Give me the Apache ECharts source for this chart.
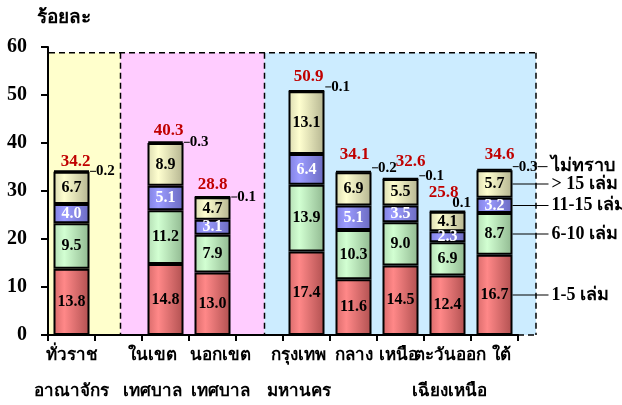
<!DOCTYPE html>
<html>
<head>
<meta charset="utf-8">
<script src="https://cdn.jsdelivr.net/npm/echarts@6/dist/echarts.min.js"></script>
<style>
  html, body { margin: 0; padding: 0; background: #fff; }
  #main { width: 622px; height: 405px; }
</style>
</head>
<body>
<div id="main"></div>
<script>
// categories ('' = spacer columns between groups)
const categories = ['ทั่วราช\nอาณาจักร', '', 'ในเขต\nเทศบาล', 'นอกเขต\nเทศบาล', '',
    'กรุงเทพ\nมหานคร', 'กลาง', 'เหนือ', 'ตะวันออก\nเฉียงเหนือ', 'ใต้'];
const books1to5   = [13.8, null, 14.8, 13.0, null, 17.4, 11.6, 14.5, 12.4, 16.7];
const books6to10  = [9.5, null, 11.2, 7.9, null, 13.9, 10.3, 9.0, 6.9, 8.7];
const books11to15 = [4.0, null, 5.1, 3.1, null, 6.4, 5.1, 3.5, 2.3, 3.2];
const booksOver15 = [6.7, null, 8.9, 4.7, null, 13.1, 6.9, 5.5, 4.1, 5.7];
const unknown     = [0.2, null, 0.3, 0.1, null, 0.1, 0.2, 0.1, 0.1, 0.3];
const totals      = [34.2, null, 40.3, 28.8, null, 50.9, 34.1, 32.6, 25.8, 34.6];
const seriesNames = ['1-5 เล่ม', '6-10 เล่ม', '11-15 เล่ม', '> 15 เล่ม', 'ไม่ทราบ'];
const yTicks = [0, 10, 20, 30, 40, 50, 60];

const FONT = "'Liberation Serif', 'Times New Roman', serif";
const last = categories.length - 1;

// horizontal nudges of the category names (label padding left/right)
const catPadding = [[0, 0], null, [0, 26], [16, 0], null, [0, 16], [0, 0], [0, 4], [4, 0], [14, 0]];

function grad(c0, c1, c2) {
    return new echarts.graphic.LinearGradient(0, 0, 1, 0, [
        {offset: 0, color: c0}, {offset: 0.3, color: c1}, {offset: 1, color: c2}
    ]);
}

// a stacked segment; the last bar also carries the leader line to the series name
function segment(name, values, fill, textColor) {
    return {
        name: name,
        type: 'bar',
        stack: 'all',
        barWidth: 36,
        itemStyle: {color: fill, borderColor: '#000', borderWidth: 2},
        label: {
            show: true,
            position: 'inside',
            fontFamily: FONT,
            fontWeight: 'bold',
            fontSize: 16,
            color: textColor,
            formatter: p => p.value == null ? '' : p.value.toFixed(1)
        },
        data: values.map((v, i) => {
            if (i !== last) return v;
            return {
                value: v,
                label: {
                    position: 'insideLeft',
                    distance: 0,
                    formatter: '{v|' + v.toFixed(1) + '}{l| }{t|' + name + '}',
                    rich: {
                        v: {width: 36, align: 'center', fontFamily: FONT, fontWeight: 'bold', fontSize: 16, color: textColor},
                        l: {width: 36, height: 1, backgroundColor: '#000'},
                        t: {fontFamily: FONT, fontWeight: 'bold', fontSize: 18, color: '#000', padding: [0, 0, 0, 3]}
                    }
                }
            };
        })
    };
}

const unknownOffsets = [[0, 0], null, [0, 0], [0, 0], null, [0, -4], [0, -4], [0, -3], [-14, -8], [0, -3]];
const unknownLead = [true, false, true, true, false, true, true, true, false, true];
const totalOffsets = [[4, 1], null, [3, 0], [0, -2], null, [2, -4], [1, -6], [10, -6], [-4, -8], [5, -4]];

let chart = echarts.init(document.getElementById('main'));

let option = {
    animation: false,
    title: {
        text: 'ร้อยละ',
        left: 32,
        top: 4,
        textStyle: {fontFamily: FONT, fontWeight: 'bold', fontSize: 19, color: '#000'}
    },
    grid: {left: 48, right: 104, top: 47, bottom: 70, outerBoundsMode: 'none', containLabel: false},
    xAxis: {
        type: 'category',
        data: categories.map((c, i) => catPadding[i] ? {value: c, textStyle: {padding: [0, catPadding[i][1], 0, catPadding[i][0]]}} : c),
        axisLine: {lineStyle: {color: '#000', width: 2}},
        axisTick: {show: true, length: 6, lineStyle: {color: '#000', width: 2}},
        axisLabel: {
            interval: 0,
            margin: 3,
            fontFamily: FONT,
            fontWeight: 'bold',
            fontSize: 17,
            lineHeight: 36,
            color: '#000'
        }
    },
    yAxis: {
        type: 'value',
        min: yTicks[0],
        max: yTicks[yTicks.length - 1],
        interval: 10,
        splitLine: {show: false},
        axisLine: {show: true, lineStyle: {color: '#000', width: 2}},
        axisTick: {show: true, length: 7, lineStyle: {color: '#000', width: 2}},
        axisLabel: {fontFamily: FONT, fontWeight: 'bold', fontSize: 20, color: '#000', margin: 21}
    },
    series: [
        segment(seriesNames[0], books1to5, grad('#D86A6A', '#FF8888', '#B05050'), '#000'),
        segment(seriesNames[1], books6to10, grad('#B4DDB4', '#D2FFD2', '#90B890'), '#000'),
        segment(seriesNames[2], books11to15, grad('#8080E0', '#9C9CFF', '#6A6AC0'), '#fff'),
        segment(seriesNames[3], booksOver15, grad('#DADAB0', '#FFFFD0', '#B4B490'), '#000'),
        {
            name: seriesNames[4],
            type: 'bar',
            stack: 'all',
            barWidth: 36,
            itemStyle: {color: '#000', borderColor: '#000', borderWidth: 2},
            label: {
                show: true,
                position: 'right',
                distance: 0,
                fontFamily: FONT,
                fontWeight: 'bold',
                fontSize: 15,
                color: '#000',
                rich: {
                    l: {width: 6, height: 1, backgroundColor: '#000'},
                    l2: {width: 10, height: 1, backgroundColor: '#000'},
                    v: {fontFamily: FONT, fontWeight: 'bold', fontSize: 15, color: '#000'},
                    t: {fontFamily: FONT, fontWeight: 'bold', fontSize: 18, color: '#000', padding: [0, 0, 0, 3]}
                },
                formatter: p => {
                    if (p.value == null) return '';
                    let s = (unknownLead[p.dataIndex] ? '{l| }' : '') + '{v|' + p.value.toFixed(1) + '}';
                    if (p.dataIndex === last) s += '{l2| }{t|' + seriesNames[4] + '}';
                    return s;
                }
            },
            data: unknown.map((v, i) => v == null ? v : {value: v, label: {offset: unknownOffsets[i]}})
        },
        {
            name: 'total',
            type: 'bar',
            stack: 'all',
            barWidth: 36,
            itemStyle: {color: 'transparent', borderWidth: 0},
            label: {
                show: true,
                position: 'top',
                distance: 2,
                fontFamily: FONT,
                fontWeight: 'bold',
                fontSize: 17,
                color: '#C00000',
                formatter: p => totals[p.dataIndex] == null ? '' : totals[p.dataIndex].toFixed(1)
            },
            data: totals.map((t, i) => t == null ? null : {value: 0, label: {offset: totalOffsets[i]}})
        }
    ]
};

chart.setOption(option);

// shaded group backgrounds with dashed borders, placed from the axis scales
let px = i => chart.convertToPixel({xAxisIndex: 0}, i);
let py = v => chart.convertToPixel({yAxisIndex: 0}, v);
let half = (px(1) - px(0)) / 2;
let x0 = px(0) - half + 1;
let x1 = px(1) + 2;
let x2 = px(4) + 5;
let x3 = px(last) + half + 18;
let yTop = py(58.8);
let yBot = py(0);
let dash = {stroke: '#000', lineWidth: 1.5, lineDash: [6, 4]};

chart.setOption({
    graphic: [
        {type: 'rect', z: -10, shape: {x: x0, y: yTop, width: x1 - x0, height: yBot - yTop}, style: {fill: '#FFFFCC'}},
        {type: 'rect', z: -10, shape: {x: x1, y: yTop, width: x2 - x1, height: yBot - yTop}, style: {fill: '#FFCCFF'}},
        {type: 'rect', z: -10, shape: {x: x2, y: yTop, width: x3 - x2, height: yBot - yTop}, style: {fill: '#CCECFF'}},
        {type: 'line', z: -9, shape: {x1: x0, y1: yTop, x2: x3, y2: yTop}, style: dash},
        {type: 'line', z: -9, shape: {x1: x1, y1: yTop, x2: x1, y2: yBot}, style: dash},
        {type: 'line', z: -9, shape: {x1: x2, y1: yTop, x2: x2, y2: yBot}, style: dash},
        {type: 'line', z: -9, shape: {x1: x3, y1: yTop, x2: x3, y2: yBot}, style: dash},
        {type: 'line', z: -9, shape: {x1: px(last) + half, y1: yBot, x2: x3, y2: yBot}, style: dash}
    ]
});
</script>
</body>
</html>
